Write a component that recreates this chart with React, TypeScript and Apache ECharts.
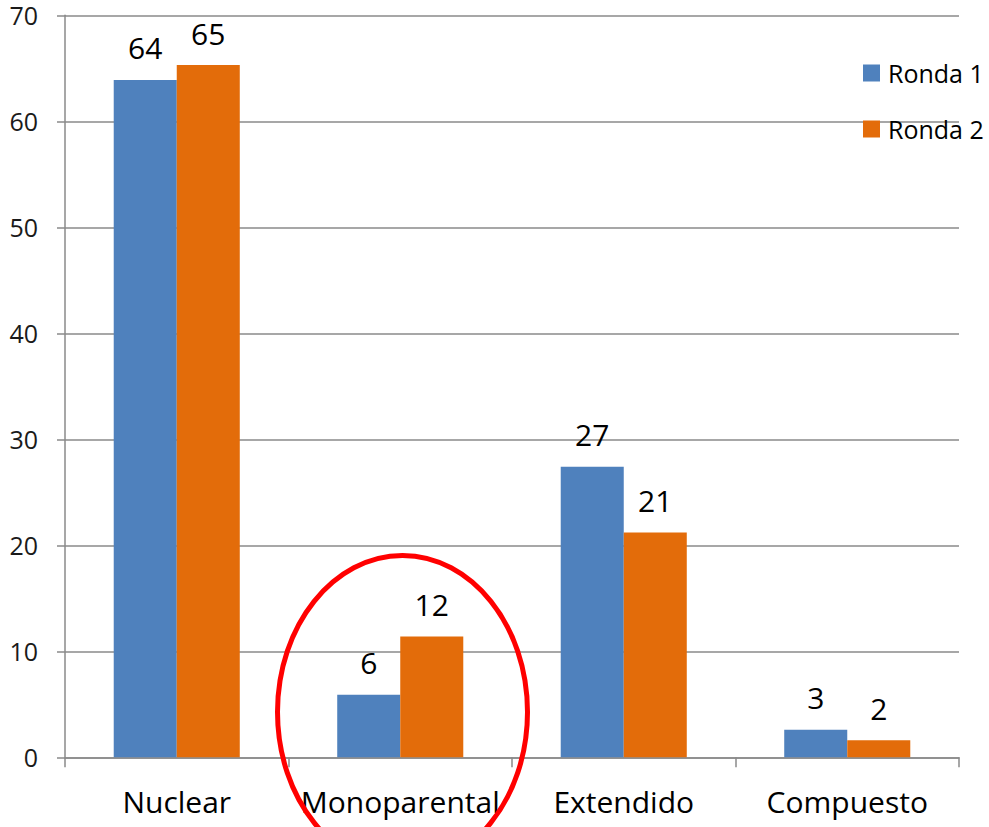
import React, { useEffect, useRef } from "react";
import * as echarts from "echarts";

const categories = ["Nuclear", "Monoparental", "Extendido", "Compuesto"];
const ronda1 = [63.9, 5.9, 27.4, 2.6];
const ronda2 = [65.3, 11.4, 21.2, 1.6];
const ronda1Labels = ["64", "6", "27", "3"];
const ronda2Labels = ["65", "12", "21", "2"];
const yTicks = [0, 10, 20, 30, 40, 50, 60, 70];

const FONT = "'Open Sans', sans-serif";
const GRID_COLOR = "#8a8a8a";

export default function App() {
  const ref = useRef<HTMLDivElement>(null);
  useEffect(() => {
    if (!ref.current) return;
    const chart = echarts.init(ref.current, undefined, { renderer: "svg" });
    chart.setOption({
      animation: false,
      textStyle: { fontFamily: FONT },
      grid: { left: 65, right: 30, top: 15.3, bottom: 69.7, containLabel: false },
      legend: {
        orient: "vertical",
        left: 858,
        top: 55.5,
        itemWidth: 17,
        itemHeight: 17,
        itemGap: 31,
        icon: "rect",
        textStyle: { fontFamily: FONT, fontSize: 25, lineHeight: 24, color: "#000", padding: [0, 0, 0, 3] },
        data: ["Ronda 1", "Ronda 2"],
      },
      xAxis: {
        type: "category",
        data: categories,
        boundaryGap: true,
        axisLine: { show: true, lineStyle: { color: GRID_COLOR, width: 1.5 } },
        axisTick: { show: true, length: 10, alignWithLabel: false, lineStyle: { color: GRID_COLOR, width: 1.5 } },
        axisLabel: { fontFamily: FONT, fontSize: 30, color: "#000", margin: 29, interval: 0, hideOverlap: false },
      },
      yAxis: {
        type: "value",
        min: yTicks[0],
        max: yTicks[yTicks.length - 1],
        interval: 10,
        axisLine: { show: true, lineStyle: { color: GRID_COLOR, width: 1.5 } },
        axisTick: { show: true, length: 8, lineStyle: { color: GRID_COLOR, width: 1.5 } },
        splitLine: { show: true, lineStyle: { color: GRID_COLOR, width: 1.5 } },
        axisLabel: { fontFamily: FONT, fontSize: 25, lineHeight: 18, color: "#1a1a1a", margin: 27 },
      },
      series: [
        {
          name: "Ronda 1",
          type: "bar",
          data: ronda1,
          barWidth: "28.2%",
          barGap: "0%",
          itemStyle: { color: "#4F81BD" },
          label: {
            show: true,
            position: "top",
            distance: 17,
            fontFamily: FONT,
            fontSize: 30,
            color: "#000",
            formatter: (p: any) => ronda1Labels[p.dataIndex],
          },
        },
        {
          name: "Ronda 2",
          type: "bar",
          data: ronda2,
          barWidth: "28.2%",
          barGap: "0%",
          itemStyle: { color: "#E36C0A" },
          label: {
            show: true,
            position: "top",
            distance: 17,
            fontFamily: FONT,
            fontSize: 30,
            color: "#000",
            formatter: (p: any) => ronda2Labels[p.dataIndex],
          },
        },
      ],
      graphic: [
        {
          type: "ellipse",
          z: 100,
          shape: { cx: 402.5, cy: 712, rx: 125, ry: 156.5 },
          style: { fill: "none", stroke: "#FF0000", lineWidth: 5 },
        },
      ],
    });
    return () => chart.dispose();
  }, []);
  return <div ref={ref} style={{ width: 989, height: 827, position: "absolute", left: 0, top: 0 }} />;
}
